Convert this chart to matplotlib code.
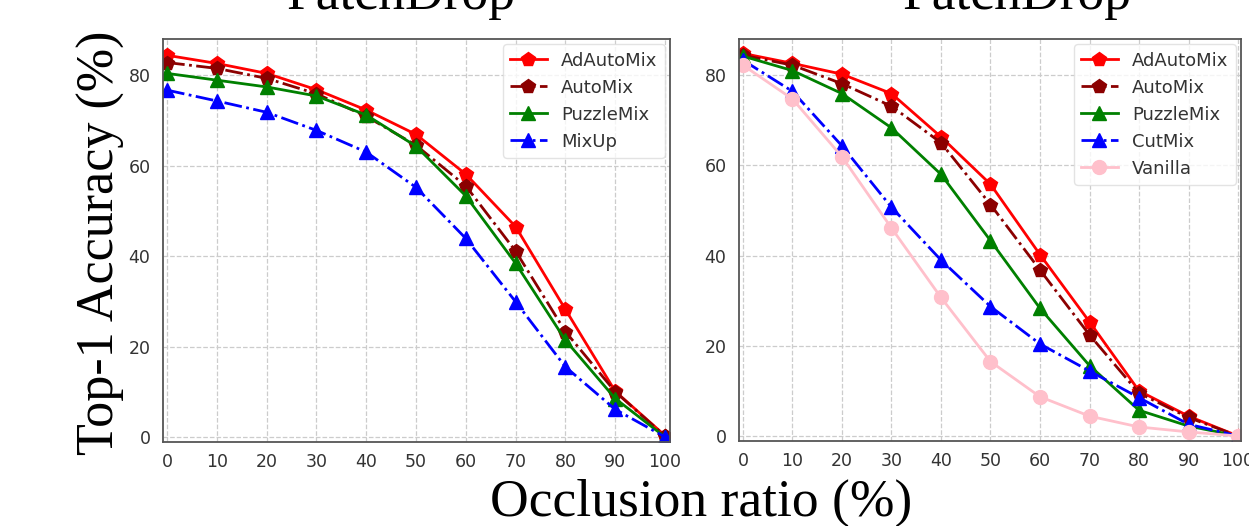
import matplotlib
matplotlib.use("Agg")
import matplotlib.pyplot as plt

# ---------------- data ----------------
occlusion = [0, 10, 20, 30, 40, 50, 60, 70, 80, 90, 100]

left_adautomix = [84.4, 82.6, 80.4, 76.8, 72.3, 66.9, 58.1, 46.5, 28.2, 10.1, 0.3]
left_automix   = [82.8, 81.5, 79.3, 75.9, 70.9, 64.5, 55.5, 41.1, 23.3, 10.0, 0.2]
left_puzzlemix = [80.4, 78.9, 77.4, 75.4, 71.2, 64.3, 53.3, 38.4, 21.4, 8.5, 0.0]
left_mixup     = [76.7, 74.3, 71.8, 67.8, 63.0, 55.2, 43.9, 29.9, 15.5, 6.1, 0.0]

right_adautomix = [84.8, 82.6, 80.2, 75.9, 66.3, 55.8, 40.2, 25.3, 10.0, 4.4, 0.0]
right_automix   = [84.4, 82.2, 78.1, 73.1, 65.0, 51.3, 36.8, 22.4, 9.5, 4.1, 0.0]
right_puzzlemix = [84.2, 81.0, 75.9, 68.3, 58.0, 43.3, 28.3, 15.6, 5.7, 2.2, 0.0]
right_cutmix    = [83.3, 76.4, 64.3, 50.7, 39.0, 28.7, 20.4, 14.4, 8.5, 2.6, 0.0]
right_vanilla   = [82.2, 74.7, 61.9, 46.1, 30.7, 16.5, 8.7, 4.4, 2.0, 0.9, 0.0]

x_ticks = [0, 10, 20, 30, 40, 50, 60, 70, 80, 90, 100]
y_ticks = [0, 20, 40, 60, 80]
title_text = "PatchDrop"
xlabel_text = "Occlusion ratio (%)"
ylabel_text = "Top-1 Accuracy (%)"

# ---------------- figure ----------------
W, H = 1249, 526
fig = plt.figure(figsize=(W / 100, H / 100), dpi=100)

def px_axes(x0, x1, ytop, ybot):
    return [x0 / W, 1 - ybot / H, (x1 - x0) / W, (ybot - ytop) / H]

axL = fig.add_axes(px_axes(163, 670, 39, 441.5))
axR = fig.add_axes(px_axes(739, 1241, 39, 440.5))

styles = {
    "AdAutoMix": dict(color="red", ls="-", marker="p"),
    "AutoMix": dict(color="darkred", ls="-.", marker="p"),
    "PuzzleMix": dict(color="green", ls="-", marker="^"),
    "MixUp": dict(color="blue", ls="-.", marker="^"),
    "CutMix": dict(color="blue", ls="-.", marker="^"),
    "Vanilla": dict(color="pink", ls="-", marker="o"),
}

left_series = [("AdAutoMix", left_adautomix), ("AutoMix", left_automix),
               ("PuzzleMix", left_puzzlemix), ("MixUp", left_mixup)]
right_series = [("AdAutoMix", right_adautomix), ("AutoMix", right_automix),
                ("PuzzleMix", right_puzzlemix), ("CutMix", right_cutmix),
                ("Vanilla", right_vanilla)]

for ax, series, xlim in [(axL, left_series, (-0.8, 101)), (axR, right_series, (-0.8, 100.6))]:
    for name, vals in series:
        st = styles[name]
        ax.plot(occlusion, vals, color=st["color"], linestyle=st["ls"],
                marker=st["marker"], markersize=10, linewidth=2, label=name)
    ax.set_xlim(*xlim)
    ax.set_ylim(-1, 88)
    ax.set_xticks(x_ticks)
    ax.set_yticks(y_ticks)
    ax.grid(True, linestyle="--", color="#cccccc", linewidth=0.9)
    ax.set_axisbelow(True)
    for sp in ax.spines.values():
        sp.set_color("#555555")
        sp.set_linewidth(1.3)
    ax.tick_params(axis="both", length=0, labelsize=12.5, colors="#333333")
    ax.tick_params(axis="y", pad=9)
    ax.tick_params(axis="x", pad=8)
    leg = ax.legend(loc="upper right", fontsize=13, borderaxespad=0.3,
                    fancybox=True, framealpha=0.8, edgecolor="#dddddd")
    for t in leg.get_texts():
        t.set_color("#333333")

serif = "Liberation Serif"
fig.text(401 / W, 1 - 9 / H, title_text, fontsize=38.5, family=serif,
         ha="center", va="baseline")
fig.text(1017 / W, 1 - 9 / H, title_text, fontsize=38.5, family=serif,
         ha="center", va="baseline")
fig.text(701 / W, 1 - 516 / H, xlabel_text, fontsize=38.5, family=serif,
         ha="center", va="baseline")
fig.text(101 / W, 1 - 243 / H, ylabel_text, fontsize=37.5, family=serif,
         ha="center", va="center", rotation=90)

fig.savefig("out.png", dpi=100)
